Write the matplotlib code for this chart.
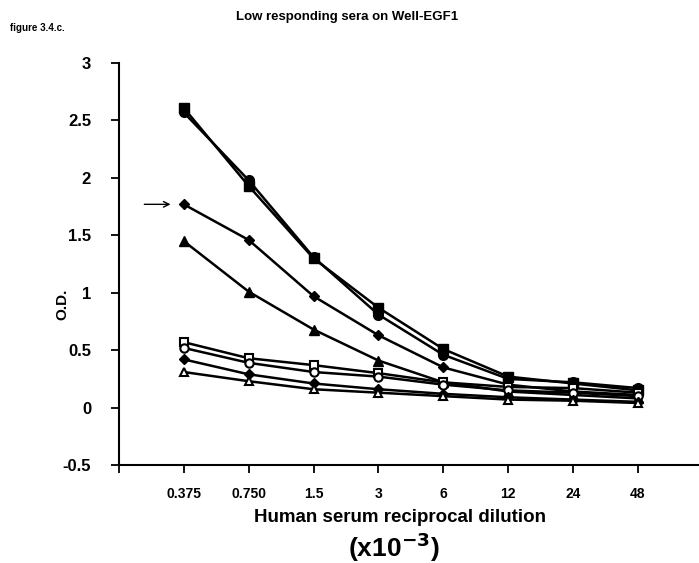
import matplotlib
matplotlib.use("Agg")
from matplotlib import pyplot as plt

plt.rcParams['font.family'] = ['Liberation Sans', 'DejaVu Sans']
plt.rcParams['font.weight'] = 'bold'

# dilutions (x10^-3) and O.D. readings for each serum
dilucoes = ["0.375", "0.750", "1.5", "3", "6", "12", "24", "48"]

soro_quadrado = [2.61, 1.93, 1.30, 0.87, 0.51, 0.27, 0.21, 0.15]
soro_circulo = [2.57, 1.98, 1.31, 0.81, 0.46, 0.25, 0.22, 0.17]
soro_losango = [1.77, 1.46, 0.97, 0.63, 0.35, 0.20, 0.14, 0.11]
soro_triangulo = [1.45, 1.01, 0.68, 0.41, 0.22, 0.14, 0.11, 0.08]
soro_quadrado_aberto = [0.57, 0.43, 0.37, 0.30, 0.22, 0.18, 0.17, 0.13]
soro_circulo_aberto = [0.52, 0.39, 0.31, 0.27, 0.20, 0.15, 0.13, 0.10]
soro_losango_peq = [0.42, 0.29, 0.21, 0.16, 0.12, 0.09, 0.07, 0.05]
soro_triangulo_aberto = [0.31, 0.23, 0.16, 0.13, 0.10, 0.07, 0.06, 0.04]

x = list(range(1, len(dilucoes) + 1))

fig = plt.figure(figsize=(6.99, 5.63), dpi=100)
ax = fig.add_axes([0.170, 0.174, 0.830, 0.714])

lw = 1.8
ax.plot(x, soro_quadrado, 'k-', marker='s', ms=7, lw=lw)
ax.plot(x, soro_circulo, 'k-', marker='o', ms=7, lw=lw)
ax.plot(x, soro_losango, 'k-', marker='D', ms=5, lw=lw)
ax.plot(x, soro_triangulo, 'k-', marker='^', ms=7, lw=lw)
ax.plot(x, soro_quadrado_aberto, 'k-', marker='s', ms=6, mfc='white', mew=1.5, lw=lw)
ax.plot(x, soro_circulo_aberto, 'k-', marker='o', ms=6, mfc='white', mew=1.5, lw=lw)
ax.plot(x, soro_losango_peq, 'k-', marker='D', ms=5, lw=lw)
ax.plot(x, soro_triangulo_aberto, 'k-', marker='^', ms=6, mfc='white', mew=1.5, lw=lw)

# seta marcando o soro de interesse
ax.annotate('', xy=(0.84, soro_losango[0]), xytext=(0.35, soro_losango[0]),
            arrowprops=dict(arrowstyle='->', lw=1.0, color='k'),
            annotation_clip=False)

ax.set_xlim(0, 8.94)
ax.set_ylim(-0.5, 3)
ax.set_xticks([0] + x)
ax.set_xticklabels([''] + dilucoes, fontsize=10, fontweight='bold')
ax.set_yticks([-0.5, 0, 0.5, 1, 1.5, 2, 2.5, 3])
ax.set_yticklabels(['-0.5', '0', '0.5', '1', '1.5', '2', '2.5', '3'], fontsize=12, fontweight='bold')
ax.tick_params(direction='out', length=6, width=1.3, pad=10)
ax.tick_params(axis='y', pad=14)

for lado in ['top', 'right']:
    ax.spines[lado].set_visible(False)
ax.spines['left'].set_linewidth(1.5)
ax.spines['bottom'].set_linewidth(1.5)

ax.set_ylabel('O.D.', fontsize=11, fontweight='bold')
ax.yaxis.set_label_coords(-0.085, 0.40)
ax.set_xlabel('Human serum reciprocal dilution', fontsize=13.5, fontweight='bold')
ax.xaxis.set_label_coords(0.485, -0.11)

fig.text(0.563, 0.01, r'(x10$^{\mathbf{-3}}$)', fontsize=19, fontweight='bold', ha='center')
fig.text(0.497, 0.965, 'Low responding sera on Well-EGF1', fontsize=9.5, fontweight='bold', ha='center')
fig.text(0.015, 0.945, 'figure 3.4.c.', fontsize=7, fontweight='bold', ha='left')

fig.savefig('out.png', dpi=100)
